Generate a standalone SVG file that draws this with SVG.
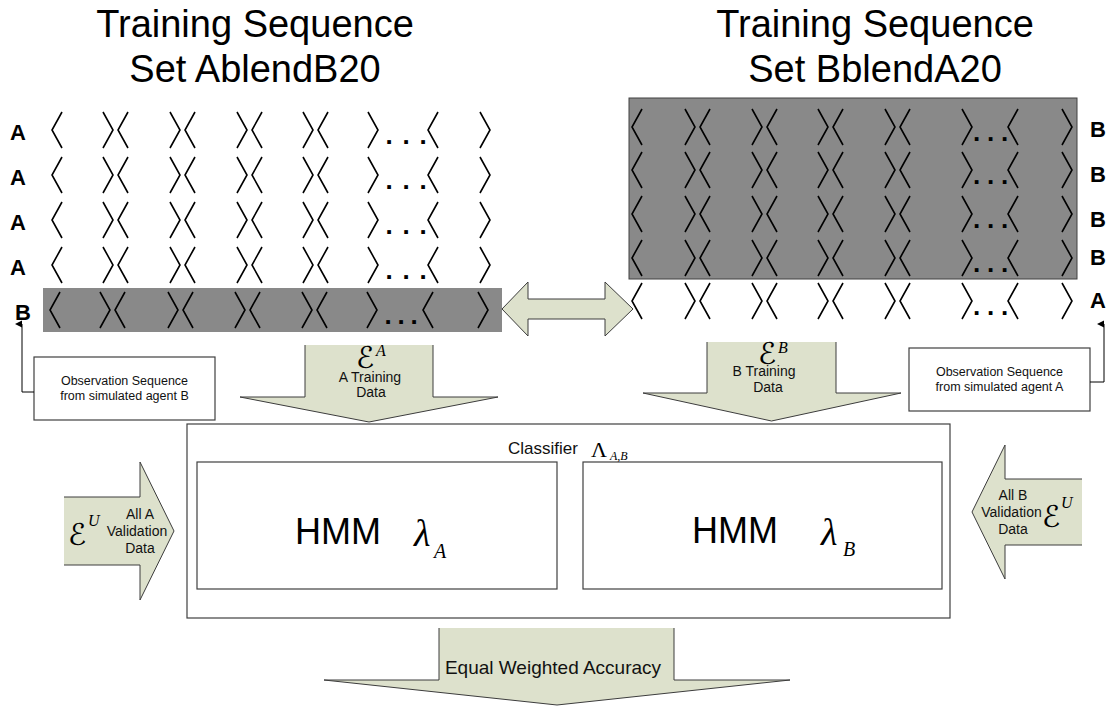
<svg xmlns="http://www.w3.org/2000/svg" xmlns:xlink="http://www.w3.org/1999/xlink" width="1112" height="706" viewBox="0 0 1112 706">
  <style>
    .title { font-family: "Liberation Sans", Arial, sans-serif; font-size: 38px; fill: #000; text-anchor: middle; }
    .lbl { font-family: "Liberation Sans", Arial, sans-serif; font-size: 22px; font-weight: bold; fill: #000; }
    .dots { font-family: "Liberation Sans", Arial, sans-serif; font-size: 26px; font-weight: bold; fill: #000; }
    .br { fill: none; stroke: #000; stroke-width: 1.6; }
    .bar { fill: #898989; }
    .box { fill: #fff; stroke: #404040; stroke-width: 1.2; }
    .small { font-family: "Liberation Sans", Arial, sans-serif; font-size: 12.5px; fill: #111; text-anchor: middle; }
    .arrowfill { fill: #dde1cc; stroke: none; }
    .arrowedge { fill: none; stroke: #3c3c3c; stroke-width: 1; stroke-linejoin: miter; }
    .alabel { font-family: "Liberation Sans", Arial, sans-serif; font-size: 14px; fill: #111; text-anchor: middle; }
    .script { font-family: "DejaVu Serif", "DejaVu Sans", serif; font-style: italic; fill: #000; }
    .mathi { font-family: "Liberation Serif", "Times New Roman", serif; font-style: italic; fill: #000; }
    .mathr { font-family: "Liberation Serif", "Times New Roman", serif; fill: #000; }
    .hmm { font-family: "Liberation Sans", Arial, sans-serif; font-size: 36px; fill: #000; }
    .conn { fill: none; stroke: #000; stroke-width: 1; }
  </style>
  <defs>
    <!-- stretched angle delimiters, centred vertically on y=0 -->
    <path id="lb" class="br" d="M10,-18 L0,0 L10,18"/>
    <path id="rb" class="br" d="M0,-18 L10,0 L0,18"/>
    <marker id="tip" markerWidth="8" markerHeight="8" refX="4" refY="7" orient="auto-start-reverse" markerUnits="userSpaceOnUse" viewBox="0 0 8 8">
      <path d="M0.5,7 L4,0 L7.5,7 Z" fill="#000"/>
    </marker>
    <!-- one observation sequence, left set -->
    <g id="rowL">
      <use href="#lb" x="52"/>
      <use href="#rb" x="103"/><use href="#lb" x="118"/>
      <use href="#rb" x="170"/><use href="#lb" x="185"/>
      <use href="#rb" x="237"/><use href="#lb" x="252"/>
      <use href="#rb" x="303"/><use href="#lb" x="318"/>
      <use href="#rb" x="368"/>
      <text class="dots" x="385.5" y="14" letter-spacing="9.8">...</text>
      <use href="#lb" x="428"/>
      <use href="#rb" x="480"/>
    </g>
    <g id="rowL5">
      <use href="#lb" x="50"/>
      <use href="#rb" x="100"/><use href="#lb" x="115"/>
      <use href="#rb" x="168"/><use href="#lb" x="183"/>
      <use href="#rb" x="235"/><use href="#lb" x="250"/>
      <use href="#rb" x="302"/><use href="#lb" x="317"/>
      <use href="#rb" x="367"/>
      <text class="dots" x="384.5" y="14" letter-spacing="5.8">...</text>
      <use href="#lb" x="423"/>
      <use href="#rb" x="478"/>
    </g>
    <!-- one observation sequence, right set -->
    <g id="rowR">
      <use href="#lb" x="632"/>
      <use href="#rb" x="685"/><use href="#lb" x="700"/>
      <use href="#rb" x="752"/><use href="#lb" x="767"/>
      <use href="#rb" x="818"/><use href="#lb" x="833"/>
      <use href="#rb" x="885"/><use href="#lb" x="900"/>
      <use href="#rb" x="962"/>
      <text class="dots" x="973" y="14" letter-spacing="6.8">...</text>
      <use href="#lb" x="1008"/>
      <use href="#rb" x="1062"/>
    </g>
  </defs>

  <rect width="1112" height="706" fill="#fff"/>

  <!-- set titles -->
  <g id="title-a">
    <text class="title" x="255" y="37">Training Sequence</text>
    <text class="title" x="255" y="82">Set AblendB20</text>
  </g>
  <g id="title-b">
    <text class="title" x="875" y="37">Training Sequence</text>
    <text class="title" x="875" y="82">Set BblendA20</text>
  </g>

  <!-- training set A blended with one B sequence -->
  <g id="set-a">
    <rect class="bar" x="43" y="288" width="459" height="44"/>
    <use href="#rowL" y="130"/>
    <use href="#rowL" y="175"/>
    <use href="#rowL" y="220"/>
    <use href="#rowL" y="265"/>
    <use href="#rowL5" y="310"/>
    <text class="lbl" x="10" y="140">A</text>
    <text class="lbl" x="10" y="185">A</text>
    <text class="lbl" x="10" y="230">A</text>
    <text class="lbl" x="10" y="275">A</text>
    <text class="lbl" x="15" y="320">B</text>
  </g>

  <!-- training set B blended with one A sequence -->
  <g id="set-b">
    <rect class="bar" x="629" y="98" width="448" height="181" stroke="#404040" stroke-width="1"/>
    <use href="#rowR" y="127"/>
    <use href="#rowR" y="170"/>
    <use href="#rowR" y="214"/>
    <use href="#rowR" y="258"/>
    <use href="#rowR" y="301"/>
    <text class="lbl" x="1090" y="137">B</text>
    <text class="lbl" x="1090" y="182">B</text>
    <text class="lbl" x="1090" y="227">B</text>
    <text class="lbl" x="1090" y="265">B</text>
    <text class="lbl" x="1090" y="308">A</text>
  </g>

  <!-- swap arrow between the two sets -->
  <g id="swap">
    <path class="arrowfill" d="M502,309 L528,282 V299 H605 V282 L633,309 L605,336 V319 H528 V336 Z"/>
    <path class="arrowedge" d="M502,309 L528,282 V299 H605 V282 L633,309 L605,336 V319 H528 V336 Z"/>
  </g>

  <!-- source notes -->
  <g id="obs-b">
    <rect class="box" x="34" y="357" width="181" height="63"/>
    <text class="small" x="124.5" y="385">Observation Sequence</text>
    <text class="small" x="124.5" y="399.5">from simulated agent B</text>
  </g>
  <g id="obs-a">
    <rect class="box" x="909" y="348" width="181" height="63"/>
    <text class="small" x="999.5" y="376">Observation Sequence</text>
    <text class="small" x="999.5" y="390.5">from simulated agent A</text>
  </g>

  <!-- training data arrows -->
  <g id="train-a">
    <path class="arrowfill" d="M305,345 H433 V397 H498 L369,422 L240,397 H305 Z"/>
    <path class="arrowedge" d="M305,345 V397 H240 L369,422 L498,397 H433 V345"/>
    <text class="script" x="356" y="368" font-size="30">ℰ</text>
    <text class="mathi" x="376" y="356" font-size="16">A</text>
    <text class="alabel" x="370" y="382">A Training</text>
    <text class="alabel" x="371" y="397">Data</text>
  </g>
  <g id="train-b">
    <path class="arrowfill" d="M707,342 H836 V393 H901 L771.5,421 L643,393 H707 Z"/>
    <path class="arrowedge" d="M707,342 V393 H643 L771.5,421 L901,393 H836 V342"/>
    <text class="script" x="758" y="364" font-size="30">ℰ</text>
    <text class="mathi" x="778" y="353" font-size="16">B</text>
    <text class="alabel" x="764" y="376">B Training</text>
    <text class="alabel" x="768" y="392">Data</text>
  </g>

  <!-- classifier made of two HMMs -->
  <g id="classifier">
    <rect class="box" x="187" y="424" width="763" height="194"/>
    <text x="508" y="454" font-family="Liberation Sans, Arial, sans-serif" font-size="17" fill="#111">Classifier</text>
    <text class="mathr" x="591" y="457" font-size="22">Λ</text>
    <text class="mathi" x="610" y="460" font-size="12">A,B</text>
  </g>
  <g id="hmm-a">
    <rect class="box" x="197" y="462" width="360" height="127"/>
    <text class="hmm" x="295" y="544">HMM</text>
    <text class="mathi" x="414" y="546" font-size="38">λ</text>
    <text class="mathi" x="434" y="558" font-size="20">A</text>
  </g>
  <g id="hmm-b">
    <rect class="box" x="583" y="462" width="359" height="127"/>
    <text class="hmm" x="692" y="543">HMM</text>
    <text class="mathi" x="821" y="545" font-size="38">λ</text>
    <text class="mathi" x="843" y="556" font-size="20">B</text>
  </g>

  <!-- validation data arrows -->
  <g id="valid-a">
    <path class="arrowfill" d="M64,497 H140 V462 L174,531 L140,600 V565 H64 Z"/>
    <path class="arrowedge" d="M64,497 H140 V462 L174,531 L140,600 V565 H64"/>
    <text class="script" x="68" y="545" font-size="30">ℰ</text>
    <text class="mathi" x="88" y="526" font-size="16">U</text>
    <text class="alabel" x="140" y="519">All A</text>
    <text class="alabel" x="137" y="536">Validation</text>
    <text class="alabel" x="140" y="553">Data</text>
  </g>
  <g id="valid-b">
    <path class="arrowfill" d="M1082,479 H1005 V445 L972,512 L1005,579 V545 H1082 Z"/>
    <path class="arrowedge" d="M1082,479 H1005 V445 L972,512 L1005,579 V545 H1082"/>
    <text class="alabel" x="1013" y="500">All B</text>
    <text class="alabel" x="1011.5" y="517">Validation</text>
    <text class="alabel" x="1013" y="534">Data</text>
    <text class="script" x="1042" y="527" font-size="30">ℰ</text>
    <text class="mathi" x="1061" y="508" font-size="16">U</text>
  </g>

  <!-- result -->
  <g id="accuracy">
    <path class="arrowfill" d="M439,628 H674 V680 H790 L557,705 L324,680 H439 Z"/>
    <path class="arrowedge" d="M439,628 V680 H324 L557,705 L790,680 H674 V628"/>
    <text x="553" y="674" font-family="Liberation Sans, Arial, sans-serif" font-size="19" fill="#111" text-anchor="middle">Equal Weighted Accuracy</text>
  </g>

  <!-- note leaders -->
  <g id="connectors">
    <path class="conn" d="M34,392 H22 V324" marker-end="url(#tip)"/>
    <path class="conn" d="M1090,382 H1104 V324" marker-end="url(#tip)"/>
  </g>
</svg>
